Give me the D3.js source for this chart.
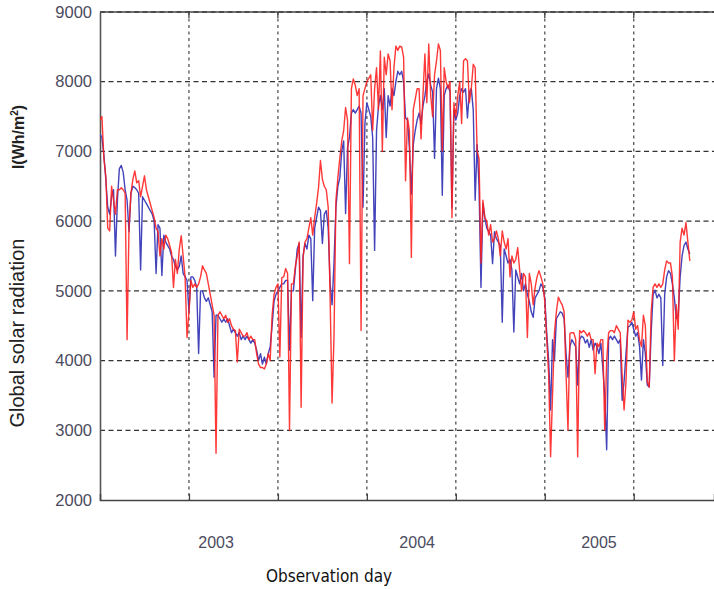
<!DOCTYPE html>
<html>
<head>
<meta charset="utf-8">
<script src="https://cdn.jsdelivr.net/npm/d3@7"></script>
<style>
  html, body { margin: 0; padding: 0; background: #fff; }
  svg { display: block; }
</style>
</head>
<body>
<svg id="chart" width="714" height="589"></svg>
<script>
// Daily global solar radiation, one value every second observation day.
const dayStep = 2;

// Measured radiation (blue), Wh/m^2
const measured = [
  7250, 7200, 6950, 6600, 6200,  6100, 6350, 6450, 5500, 6300,
  6750, 6800, 6700, 6450, 6300,  5850, 6400, 6500, 6480, 6450,
  6400, 5300, 6350, 6300, 6250,  6200, 6150, 6100, 6000, 5250,
  5950, 5900, 5220, 5800, 5700,  5650, 5600, 5500, 5450, 5350,
  5300, 5350, 5500, 5250, 5200,  5150, 4700, 5200, 5200, 5150,
  5050, 4100, 5000, 5000, 4900,  4850, 4900, 4800, 4700, 3760,
  4650, 4650, 4600, 4550, 4600,  4550, 4600, 4500, 4400, 4450,
  4400, 4350, 4400, 4300, 4350,  4300, 4350, 4300, 4250, 4300,
  4250, 4150, 4000, 4100, 3950,  4050, 3950, 4100, 4200, 4500,
  4850, 4950, 5000, 5050, 5100,  5100, 5150, 5150, 4150, 5000,
  5000, 5300, 5600, 5680, 4330,  5500, 5680, 5600, 5800, 5750,
  4860, 5900, 6050, 6200, 6150,  5680, 6100, 6150, 5900, 5100,
  4800, 5400, 6200, 6500, 6620,  7000, 7150, 6110, 7050, 7200,
  7550, 7600, 7550, 7600, 7650,  7550, 6200, 7400, 7700, 7600,
  7500, 7200, 5580, 7300, 7650,  7800, 7600, 7900, 7200, 7800,
  7650, 7900, 7800, 8000, 8150,  8100, 8150, 8000, 7480, 7450,
  7050, 6390, 7100, 7300, 7450,  7550, 7400, 7650, 7800, 8000,
  8110, 7950, 7850, 6900, 7900,  8050, 7900, 6370, 7800, 7900,
  7950, 7850, 6190, 7600, 7450,  7550, 7800, 7900, 7850, 7900,
  7480, 7850, 7900, 7600, 6300,  7100, 6500, 5050, 6250, 6050,
  5900, 5850, 5800, 5390, 5850,  5750, 5700, 5650, 4550, 5600,
  5500, 5400, 5450, 5300, 4410,  5300, 5200, 5100, 5250, 5000,
  5100, 4950, 4850, 4700, 4620,  4900, 4950, 5000, 5100, 5050,
  4900, 4400, 4000, 3290, 4300,  4000, 4600, 4650, 4700, 4680,
  4600, 4100, 3760, 4200, 4300,  4250, 4200, 3650, 4300, 4350,
  4330, 4250, 4300, 4190, 4300,  4150, 4250, 4200, 4100, 4250,
  3900, 3500, 2720, 4300, 4350,  4300, 4350, 4300, 4250, 4300,
  3430, 3700, 4100, 4480, 4500,  4550, 4450, 4350, 4400, 4200,
  3720, 4300, 4100, 3650, 3620,  4400, 4950, 5010, 4900, 4950,
  4900, 3930, 4950, 5200, 5290,  5250, 5100, 4900, 4600, 4650,
  5200, 5500, 5650, 5700, 5600, 5530
];

// Model estimate (red), Wh/m^2
const predicted = [
  7450, 7500, 6900, 6650, 5900,  5860, 6500, 6300, 6100, 6450,
  6450, 6480, 6450, 6400, 4300,  5900, 6400, 6600, 6720, 6550,
  6580, 6350, 6500, 6650, 6450,  6350, 6250, 6150, 6050, 5900,
  5850, 5500, 5750, 5600, 5800,  5750, 5650, 5550, 5050, 5450,
  5250, 5600, 5790, 5500, 5200,  4330, 4700, 5150, 5050, 5100,
  5050, 5100, 5200, 5360, 5300,  5250, 5100, 4950, 4800, 4650,
  2670, 4650, 4700, 4650, 4600,  4650, 4550, 4600, 4500, 4450,
  4430, 3980, 4450, 4400, 4350,  4350, 4400, 4300, 4350, 4300,
  4300, 4100, 3950, 3900, 3900,  3880, 3950, 4100, 4000, 4650,
  4950, 5050, 5100, 4050, 5190,  5200, 5320, 5250, 3000, 5100,
  5100, 5350, 5500, 5700, 3330,  5480, 5700, 5750, 5900, 6050,
  5800, 6050, 6250, 6480, 6870,  6600, 6500, 6450, 6200, 4900,
  3390, 4350, 6300, 6620, 6900,  7150, 7300, 7630, 7450, 5390,
  7900, 8040, 7950, 7800, 7900,  4430, 7800, 7900, 8000, 8050,
  8100, 7300, 7900, 8200, 7600,  8440, 7000, 8350, 8100, 8400,
  8300, 7600, 8200, 8510, 8450,  8510, 8500, 8350, 6580, 7480,
  7300, 5480, 7600, 7750, 7900,  7900, 7180, 7800, 8400, 7700,
  8540, 7800, 7500, 8100, 8300,  8540, 8450, 7010, 8200, 8000,
  7900, 8000, 6050, 7700, 7500,  7800, 8000, 7400, 8300, 8330,
  8300, 7700, 7900, 8250, 8200,  7000, 6900, 5400, 6300, 6050,
  6000, 5800, 5950, 5700, 5750,  5860, 5750, 5500, 5860, 5700,
  5600, 5750, 5200, 5500, 5400,  5450, 5620, 5300, 5000, 5250,
  5200, 4330, 5250, 5100, 4800,  5050, 5200, 5290, 5200, 5100,
  4850, 4300, 3800, 2620, 3500,  4400, 4700, 4910, 4850, 4800,
  4700, 3800, 3000, 4390, 4400,  4400, 4300, 2620, 4430, 4400,
  4430, 4400, 4350, 4400, 4300,  4300, 3810, 4250, 4200, 4300,
  4300, 3000, 4000, 4400, 4430,  4430, 4400, 4500, 4450, 4400,
  3800, 3290, 3700, 4580, 4550,  4580, 4700, 4450, 4500, 4300,
  4200, 4650, 4500, 3700, 3620,  4700, 5050, 5100, 5050, 5100,
  5050, 5100, 5300, 5430, 5400,  5400, 5200, 4000, 4800, 4450,
  5700, 5900, 5800, 5980, 5700, 5430
];

// Axis ticks
const yTicks = [2000, 3000, 4000, 5000, 6000, 7000, 8000, 9000];
const gridDays = [92, 184, 276, 368, 460, 552];
const yearLabels = ["2003", "2004", "2005"];
const yearDays = [120, 328, 516];

const svg = d3.select("#chart");
const plotLeft = 100, plotRight = 714, plotTop = 12, plotBottom = 500;

const x = d3.scaleLinear().domain([0, 635]).range([plotLeft, plotRight]);
const y = d3.scaleLinear().domain([2000, 9000]).range([plotBottom, plotTop]);

svg.append("defs").append("clipPath").attr("id", "plot-clip")
  .append("rect").attr("x", plotLeft).attr("y", plotTop)
  .attr("width", plotRight - plotLeft).attr("height", plotBottom - plotTop);

// Grid: dashed horizontals, dotted verticals
const grid = svg.append("g");
grid.selectAll("line.h").data(yTicks.filter(v => v > 2000)).join("line")
  .attr("class", "h")
  .attr("x1", plotLeft).attr("x2", plotRight)
  .attr("y1", d => y(d)).attr("y2", d => y(d))
  .attr("stroke", "#333").attr("stroke-width", 1.3)
  .attr("stroke-dasharray", "5,3.5");
grid.selectAll("line.v").data(gridDays).join("line")
  .attr("class", "v")
  .attr("x1", d => x(d)).attr("x2", d => x(d))
  .attr("y1", plotTop).attr("y2", plotBottom)
  .attr("stroke", "#555").attr("stroke-width", 1.3)
  .attr("stroke-dasharray", "3,3.5");

// Frame: top edge, left axis, bottom axis
svg.append("line").attr("x1", plotLeft).attr("x2", plotRight)
  .attr("y1", plotTop).attr("y2", plotTop)
  .attr("stroke", "#444").attr("stroke-width", 1.4);

const yAxis = svg.append("g").attr("transform", `translate(${plotLeft},0)`)
  .call(d3.axisLeft(y).tickValues(yTicks).tickSize(0).tickPadding(8).tickFormat(d3.format("d")));
yAxis.select(".domain").attr("stroke", "#555").attr("stroke-width", 1.6);
yAxis.selectAll("text")
  .attr("font-family", "Liberation Sans, Arial, sans-serif")
  .attr("font-size", 16.5).attr("fill", "#4b4b5e");

const xAxis = svg.append("g").attr("transform", `translate(0,${plotBottom})`)
  .call(d3.axisBottom(x).tickValues(gridDays).tickSize(-6).tickFormat(""));
xAxis.select(".domain").attr("stroke", "#444").attr("stroke-width", 1.5);
xAxis.selectAll(".tick line").attr("stroke", "#444").attr("stroke-width", 1.3);

// Top edge ticks
svg.append("g").selectAll("line").data(gridDays).join("line")
  .attr("x1", d => x(d)).attr("x2", d => x(d))
  .attr("y1", plotTop).attr("y2", plotTop + 6)
  .attr("stroke", "#444").attr("stroke-width", 1.3);

// Year labels under the axis
svg.append("g").selectAll("text").data(yearLabels).join("text")
  .attr("x", (d, i) => x(yearDays[i]))
  .attr("y", 548)
  .attr("text-anchor", "middle")
  .attr("font-family", "Liberation Sans, Arial, sans-serif")
  .attr("font-size", 16).attr("fill", "#4b4b5e")
  .text(d => d);

// Axis titles
svg.append("text")
  .attr("x", 329).attr("y", 582)
  .attr("text-anchor", "middle")
  .attr("font-family", "DejaVu Sans Condensed, DejaVu Sans, sans-serif")
  .attr("font-size", 17).attr("fill", "#111")
  .text("Observation day");

svg.append("text")
  .attr("transform", "translate(24,333) rotate(-90)")
  .attr("text-anchor", "middle")
  .attr("font-family", "Liberation Sans, Arial, sans-serif")
  .attr("font-size", 20).attr("fill", "#222")
  .text("Global solar radiation");

const unit = svg.append("text")
  .attr("transform", "translate(24,137) rotate(-90)")
  .attr("text-anchor", "middle")
  .attr("font-family", "Liberation Sans, Arial, sans-serif")
  .attr("font-size", 16).attr("font-weight", "bold").attr("fill", "#222");
unit.append("tspan").text("I(Wh/m");
unit.append("tspan").attr("dy", -6).attr("font-size", 10).text("2");
unit.append("tspan").attr("dy", 6).text(")");

// Series
const line = d3.line()
  .x((d, i) => x(i * dayStep))
  .y(d => y(d));

const plot = svg.append("g").attr("clip-path", "url(#plot-clip)");
plot.append("path").datum(measured)
  .attr("d", line)
  .attr("fill", "none")
  .attr("stroke", "#4343bb").attr("stroke-width", 1.4)
  .attr("stroke-linejoin", "round");
plot.append("path").datum(predicted)
  .attr("d", line)
  .attr("fill", "none")
  .attr("stroke", "#ff1c1c").attr("stroke-width", 1.4)
  .attr("stroke-opacity", 0.88)
  .attr("stroke-linejoin", "round");
</script>
</body>
</html>
